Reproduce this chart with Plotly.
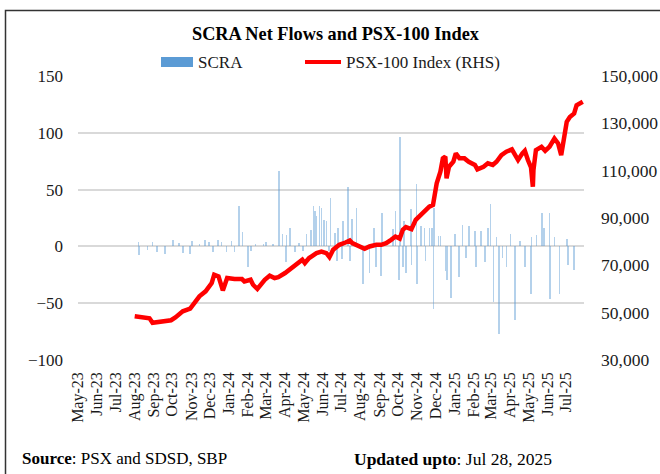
import plotly.graph_objects as go

# PSX-100 index (right-hand scale)
idx_dates = [
    '2023-08-01', '2023-08-09', '2023-08-17', '2023-08-25', '2023-08-30', '2023-09-07',
    '2023-09-18', '2023-09-29', '2023-10-06', '2023-10-18', '2023-10-30', '2023-11-06',
    '2023-11-14', '2023-11-24', '2023-12-04', '2023-12-08', '2023-12-15', '2023-12-22',
    '2023-12-29', '2024-01-10', '2024-01-22', '2024-01-26', '2024-02-05', '2024-02-09',
    '2024-02-16', '2024-02-28', '2024-03-07', '2024-03-15', '2024-03-21', '2024-04-01',
    '2024-04-12', '2024-04-19', '2024-04-29', '2024-05-03', '2024-05-10', '2024-05-22',
    '2024-05-30', '2024-06-07', '2024-06-12', '2024-06-18', '2024-06-28', '2024-07-08',
    '2024-07-15', '2024-07-19', '2024-07-31', '2024-08-08', '2024-08-16', '2024-08-27',
    '2024-09-04', '2024-09-12', '2024-09-20', '2024-09-27', '2024-10-04', '2024-10-09',
    '2024-10-14', '2024-10-23', '2024-10-30', '2024-11-05', '2024-11-13', '2024-11-21',
    '2024-11-27', '2024-12-03', '2024-12-09', '2024-12-13', '2024-12-17', '2024-12-19',
    '2024-12-23', '2024-12-30', '2025-01-03', '2025-01-09', '2025-01-17', '2025-01-24',
    '2025-02-03', '2025-02-07', '2025-02-17', '2025-02-24', '2025-03-04', '2025-03-10',
    '2025-03-18', '2025-03-26', '2025-04-04', '2025-04-08', '2025-04-14', '2025-04-21',
    '2025-04-25', '2025-04-30', '2025-05-05', '2025-05-08', '2025-05-09', '2025-05-13',
    '2025-05-22', '2025-05-28', '2025-06-04', '2025-06-12', '2025-06-18', '2025-06-23',
    '2025-06-27', '2025-07-02', '2025-07-07', '2025-07-14', '2025-07-18', '2025-07-23',
    '2025-07-28',
]
idx_values = [
    48470, 48200, 47800, 47600, 45700, 45950,
    46230, 46800, 48000, 50560, 51700, 54100,
    56900, 59000, 62540, 66030, 65320, 59400,
    64640, 64200, 64200, 63200, 63900, 61800,
    60000, 63900, 65600, 64640, 65000, 66750,
    68850, 70250, 72350, 70960, 73070, 75180,
    75850, 75180, 73500, 76560, 78670, 79640,
    80480, 79400, 77960, 76990, 77960, 78670,
    78670, 79390, 80780, 82170, 81300, 85000,
    86130, 85290, 89200, 90600, 92700, 94800,
    95530, 104670, 109550, 115200, 115900, 106770,
    111700, 113770, 117300, 115200, 115200, 113770,
    112400, 110560, 111660, 113100, 112400, 113770,
    116600, 118000, 119000, 117300, 114500, 117300,
    118400, 114500, 111400, 103200, 110300, 118700,
    120100, 118400, 120100, 123600, 121500, 116600,
    122900, 130600, 132700, 134150, 137650, 138600,
    139100,
]

# SCRA daily net flows (left-hand scale)
scra_dates = [
    '2023-08-07', '2023-08-08', '2023-08-22', '2023-08-30', '2023-09-06', '2023-09-19',
    '2023-10-02', '2023-10-12', '2023-10-18', '2023-10-30', '2023-11-02', '2023-11-14',
    '2023-11-23', '2023-11-30', '2023-12-06', '2023-12-14', '2023-12-20', '2023-12-28',
    '2024-01-05', '2024-01-10', '2024-01-17', '2024-01-23', '2024-02-01', '2024-02-06',
    '2024-02-13', '2024-02-26', '2024-03-01', '2024-03-12', '2024-03-22', '2024-03-28',
    '2024-04-02', '2024-04-03', '2024-04-09', '2024-04-17', '2024-04-24', '2024-04-30',
    '2024-05-06', '2024-05-13', '2024-05-17', '2024-05-20', '2024-05-22', '2024-05-27',
    '2024-05-30', '2024-06-03', '2024-06-07', '2024-06-11', '2024-06-14', '2024-06-21',
    '2024-06-24', '2024-06-26', '2024-07-02', '2024-07-04', '2024-07-12', '2024-07-15',
    '2024-07-19', '2024-07-26', '2024-08-05', '2024-08-16', '2024-08-23', '2024-08-27',
    '2024-09-04', '2024-09-05', '2024-09-23', '2024-09-27', '2024-10-03', '2024-10-04',
    '2024-10-09', '2024-10-11', '2024-10-14', '2024-10-22', '2024-10-23', '2024-10-31',
    '2024-11-01', '2024-11-08', '2024-11-13', '2024-11-15', '2024-11-21', '2024-11-25',
    '2024-11-28', '2024-11-29', '2024-12-06', '2024-12-09', '2024-12-18', '2024-12-20',
    '2024-12-26', '2024-12-27', '2025-01-02', '2025-01-08', '2025-01-14', '2025-01-20',
    '2025-01-24', '2025-02-03', '2025-02-05', '2025-02-13', '2025-02-19', '2025-02-24',
    '2025-02-28', '2025-03-05', '2025-03-10', '2025-03-14', '2025-03-20', '2025-03-26',
    '2025-04-02', '2025-04-09', '2025-04-10', '2025-04-17', '2025-04-25', '2025-05-05',
    '2025-05-06', '2025-05-14', '2025-05-23', '2025-05-26', '2025-06-04', '2025-06-05',
    '2025-06-12', '2025-06-20', '2025-07-02', '2025-07-04', '2025-07-14',
]
scra_values = [
    4, -8, -3, 4, -5, -7,
    6, 3, -6, -7, 5, 2,
    6, 3.5, -5, 5.4, 4, -4.5,
    5, -5, 36, 13, -18, -4,
    2, 2, 4, 2, 66, 11,
    -14, 10, 16, -5, 3, -4,
    11, 14.5, 35.5, 31, 27, 35.5,
    34, 23, 22, -4, 43, 12,
    -13, 16, -11, 22, 52, -13,
    24, 34, -33, -23, 16.5, -18,
    -26, 29.7, 15, 31, -30, 96,
    -18, 22, -23, 32.6, -16, 54.5,
    -33, 18, 16, -13, 16.5, 16.5,
    -55, 34, 9, 9, -21.5, -30,
    -45, -16, 10.5, -27, 19, -10,
    18, 13.5, -18, 13.5, -14, 16.5,
    37, -49, 8, -77, -10, -18,
    10.5, -65, -36, 5, -18, -42,
    8, 10, 29.7, 16.5, 29.7, -46,
    8, -42, 6.5, -16, -21,
]

left_ticks = [-100, -50, 0, 50, 100, 150]
right_ticks = [30000, 50000, 70000, 90000, 110000, 130000, 150000]

W, H = 660, 474
ML, MR, MT, MB = 78, 76, 76, 114
PW, PH = W - ML - MR, H - MT - MB
FONT = 'Liberation Serif'
TXT = '#1a1a1a'
BLUE = '#5B9BD5'
RED = '#FF0000'
GRID = '#D9D9D9'
X_RANGE = ['2023-05-01', '2025-07-30']
DAY_MS = 86400000


def fx(p):
    """pixel x -> paper x"""
    return (p - ML) / PW


def fy(p):
    """pixel y -> paper y"""
    return (H - MB - p) / PH


fig = go.Figure()

fig.add_trace(go.Bar(
    x=scra_dates, y=scra_values, name='SCRA',
    marker=dict(color=BLUE, line=dict(width=0)),
    width=1.0 * DAY_MS, opacity=0.45,
    xaxis='x', yaxis='y', showlegend=False,
))

fig.add_trace(go.Scatter(
    x=idx_dates, y=idx_values, name='PSX-100 Index (RHS)',
    mode='lines', line=dict(color=RED, width=4.5),
    xaxis='x', yaxis='y2', showlegend=False,
))

# zero-level category axis with cross tick marks
zero_pos = (0 - left_ticks[0]) / (left_ticks[-1] - left_ticks[0])
axis_common = dict(
    type='date', range=X_RANGE, overlaying='x', anchor='free', position=zero_pos,
    showline=True, linecolor='#C8C8C8', linewidth=1.5,
    tickmode='linear', tick0='2023-05-01', dtick='M1',
    ticklen=5, tickwidth=1, tickcolor='#C8C8C8',
    showticklabels=False, showgrid=False, zeroline=False, automargin=False,
)

fig.update_layout(
    width=W, height=H,
    margin=dict(l=ML, r=MR, t=MT, b=MB, pad=0, autoexpand=False),
    paper_bgcolor='white', plot_bgcolor='white',
    font=dict(family=FONT, size=17, color=TXT),
    bargap=0,
    xaxis=dict(
        type='date', range=X_RANGE,
        tickmode='linear', tick0='2023-05-01', dtick='M1', tickformat='%b-%y',
        tickangle=-90, tickfont=dict(size=16, color=TXT),
        ticklabelstandoff=8, automargin=False,
        showgrid=False, showline=False, zeroline=False, ticks='',
    ),
    xaxis2=dict(**axis_common, ticks='outside'),
    xaxis3=dict(**axis_common, ticks='inside'),
    yaxis=dict(
        range=[left_ticks[0], left_ticks[-1]], tickvals=left_ticks,
        showgrid=True, gridcolor=GRID, gridwidth=1.5,
        zeroline=False, showline=False, ticks='', automargin=False,
        ticklabelstandoff=14, tickfont=dict(size=17, color=TXT),
    ),
    yaxis2=dict(
        range=[right_ticks[0], right_ticks[-1]], tickvals=right_ticks,
        tickformat=',', overlaying='y', side='right',
        showgrid=False, zeroline=False, showline=False, ticks='', automargin=False,
        ticklabelstandoff=16, tickfont=dict(size=17.5, color=TXT),
    ),
)

shapes = [
    # outer frame
    dict(type='rect', xref='paper', yref='paper',
         x0=fx(5.5), x1=fx(720), y0=fy(10.5), y1=fy(520),
         line=dict(color='#333333', width=1.5), fillcolor='rgba(0,0,0,0)'),
    # legend swatches
    dict(type='rect', xref='paper', yref='paper',
         x0=fx(161), x1=fx(193), y0=fy(57), y1=fy(67),
         line=dict(width=0), fillcolor=BLUE),
    dict(type='line', xref='paper', yref='paper',
         x0=fx(305), x1=fx(341), y0=fy(62), y1=fy(62),
         line=dict(color=RED, width=4)),
]
fig.update_layout(shapes=shapes)

annotations = [
    dict(text='<b>SCRA Net Flows and PSX-100 Index</b>', x=fx(336), y=fy(34),
         xanchor='center', yanchor='middle', font=dict(size=18.3, color='#000000')),
    dict(text='SCRA', x=fx(196), y=fy(62), xanchor='left', yanchor='middle',
         font=dict(size=17)),
    dict(text='PSX-100 Index (RHS)', x=fx(344), y=fy(62), xanchor='left', yanchor='middle',
         font=dict(size=17)),
    dict(text='<b>Source</b>: PSX and SDSD, SBP', x=fx(20), y=fy(459),
         xanchor='left', yanchor='middle', font=dict(size=17, color='#000000')),
    dict(text='<b>Updated upto</b>: Jul 28, 2025', x=fx(352), y=fy(459),
         xanchor='left', yanchor='middle', font=dict(size=17.5, color='#000000')),
]
for a in annotations:
    a.update(xref='paper', yref='paper', showarrow=False)
fig.update_layout(annotations=annotations)

fig.write_html('out.html')
